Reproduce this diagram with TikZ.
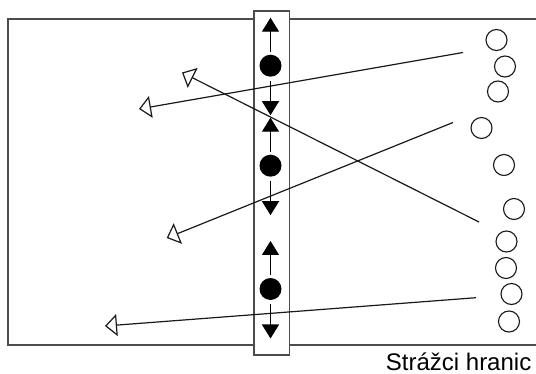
\documentclass[tikz,border=0pt]{standalone}
\usepackage{fontspec}
\setmainfont{Liberation Sans}
\usetikzlibrary{arrows.meta}
\begin{document}
\begin{tikzpicture}[x=1pt,y=-1pt,
  frame/.style={draw=black!70,line width=1.4pt},
  stripbox/.style={draw=black!70,fill=white,line width=1.4pt},
  guard/.style={circle,fill=black,minimum size=22pt,inner sep=0pt},
  move/.style={line width=1.2pt,-{Triangle[length=14pt,width=17pt]}},
  person/.style={circle,draw=black!90,line width=1.1pt,minimum size=21pt,inner sep=0pt},
  run/.style={draw=black!90,line width=1.2pt,-{Triangle[open,length=12pt,width=22pt,line width=1.2pt]}},
  lbl/.style={font=\fontsize{24}{28}\selectfont,inner sep=0pt,anchor=base east}
]
\useasboundingbox (0,0) rectangle (536,374);
% outer area
\draw[frame] (8,19) rectangle (560,345);
% border strip
\filldraw[stripbox] (254,11) rectangle (289.3,355);
% guards with movement arrows
\foreach \i/\y in {1/65.7,2/165.7,3/289} {
  \node[guard] (g\i) at (270.5,\y) {};
  \coordinate (gu\i) at (270.5,\y-48);
  \coordinate (gd\i) at (270.5,\y+49.5);
  \draw[move,shorten <=14pt] (g\i.center) -- (gu\i);
  \draw[move,shorten <=15.5pt] (g\i.center) -- (gd\i);
}
% people on the right
\node[person] (p1) at (496.5,40) {};
\node[person] (p2) at (505,66.5) {};
\node[person] (p3) at (498,91.5) {};
\node[person] (p4) at (481.5,128) {};
\node[person] (p5) at (504,165) {};
\node[person] (p6) at (514,209) {};
\node[person] (p7) at (506.5,241.5) {};
\node[person] (p8) at (506,268) {};
\node[person] (p9) at (511.5,294) {};
\node[person] (p10) at (509,321.5) {};
% crossing paths
\coordinate (a0) at (463,52.5);  \coordinate (a1) at (139,109);
\coordinate (b0) at (479,222);   \coordinate (b1) at (182,72.5);
\coordinate (c0) at (453,122.5); \coordinate (c1) at (166.7,238);
\coordinate (d0) at (476,297.7); \coordinate (d1) at (105,326);
\draw[run] (a0) -- (a1);
\draw[run] (b0) -- (b1);
\draw[run] (c0) -- (c1);
\draw[run] (d0) -- (d1);
% label
\node[lbl] (txt) at (531.5,370.8) {Strážci hranic};
\end{tikzpicture}
\end{document}
